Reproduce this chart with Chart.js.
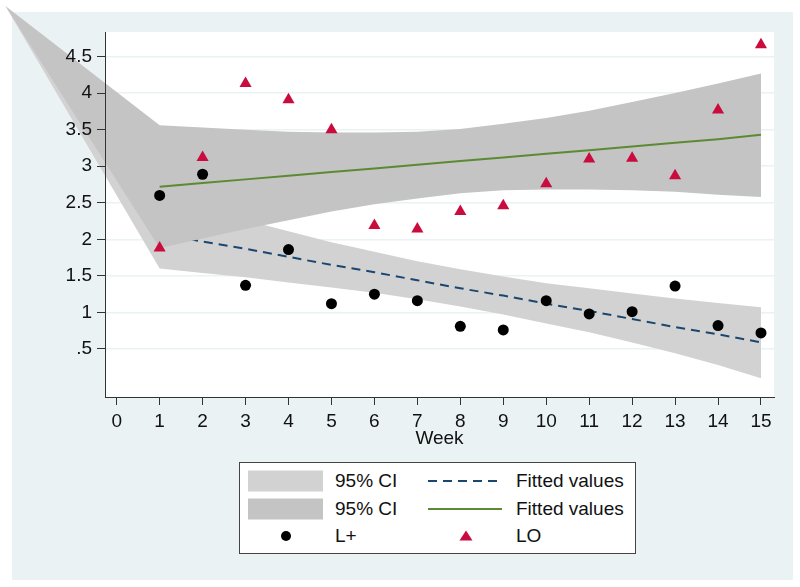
<!DOCTYPE html>
<html>
<head>
<meta charset="utf-8">
<script src="https://cdn.jsdelivr.net/npm/chart.js@4.4.0/dist/chart.umd.min.js"></script>
<style>
  body { margin: 0; background: #fff; font-family: "Liberation Sans", Arial, sans-serif; }
  #wrap { position: relative; width: 800px; height: 587px; overflow: hidden; }
  #bg { position: absolute; left: 12px; top: 12px; width: 781px; height: 568px; background: #eaf2f3; }
  #chart { position: absolute; left: 0; top: 0; }
  #legend { position: absolute; left: 239px; top: 462px; width: 397px; height: 92px;
            box-sizing: border-box; border: 1px solid #444; background: #fff; }
  #legend svg { position: absolute; }
  #legend span { position: absolute; font-size: 19px; line-height: 22px; color: #111; white-space: nowrap; }
</style>
</head>
<body>
<div id="wrap">
  <div id="bg"></div>
  <canvas id="chart" width="800" height="587"></canvas>
  <div id="legend"></div>
</div>
<script>
// -------------------- DATA --------------------
const weeks = [1, 2, 3, 4, 5, 6, 7, 8, 9, 10, 11, 12, 13, 14, 15];
const xTicks = [0, 1, 2, 3, 4, 5, 6, 7, 8, 9, 10, 11, 12, 13, 14, 15];
const yTicks = [0.5, 1, 1.5, 2, 2.5, 3, 3.5, 4, 4.5];
const yTickLabels = ['.5', '1', '1.5', '2', '2.5', '3', '3.5', '4', '4.5'];
const xTitle = 'Week';

// observed scores
const lPlus = [2.60, 2.89, 1.37, 1.86, 1.12, 1.25, 1.16, 0.81, 0.76, 1.16, 0.98, 1.01, 1.36, 0.82, 0.72];
const lo    = [1.88, 3.12, 4.13, 3.91, 3.50, 2.19, 2.14, 2.38, 2.46, 2.76, 3.10, 3.11, 2.87, 3.77, 4.66];

// linear fits
const fitLplus = [2.08, 1.97, 1.87, 1.76, 1.65, 1.55, 1.44, 1.33, 1.23, 1.12, 1.02, 0.91, 0.80, 0.70, 0.59];
const fitLo    = [2.72, 2.77, 2.82, 2.87, 2.92, 2.97, 3.02, 3.07, 3.12, 3.17, 3.22, 3.27, 3.32, 3.37, 3.43];

// 95% CI bands
const ciLplusUpper = [2.57, 2.41, 2.26, 2.11, 1.96, 1.83, 1.70, 1.59, 1.49, 1.40, 1.33, 1.26, 1.19, 1.13, 1.07];
const ciLplusLower = [1.60, 1.54, 1.48, 1.41, 1.34, 1.27, 1.18, 1.08, 0.97, 0.85, 0.73, 0.59, 0.44, 0.28, 0.10];
const ciLoUpper    = [3.56, 3.53, 3.50, 3.47, 3.46, 3.46, 3.47, 3.51, 3.58, 3.66, 3.76, 3.88, 4.00, 4.13, 4.27];
const ciLoLower    = [1.88, 2.01, 2.14, 2.26, 2.38, 2.48, 2.56, 2.63, 2.67, 2.68, 2.68, 2.67, 2.65, 2.61, 2.58];
// both band polygons start from this stray point up in the corner (week, value)
const ciApex = [-2.59, 5.19];

const legendLabels = ['95% CI', 'Fitted values', '95% CI', 'Fitted values', 'L+', 'LO'];

// -------------------- STYLE --------------------
const bandLight = '#d2d2d2';
const bandDark = '#c4c4c4';
const navy = '#1a476f';
const green = '#5b8a33';
const red = '#c90b3e';
const axisColor = '#333';
const font = { family: '"Liberation Sans", Arial, sans-serif', size: 19 };

const toXY = (ys) => ys.map((y, i) => ({ x: weeks[i], y }));
const setTicks = (vals) => (scale) => { scale.ticks = vals.map(v => ({ value: v })); };

// draws the CI polygons (not clipped, they run off past the axes like the original)
const ciBands = {
  id: 'ciBands',
  beforeDraw(chart) {
    const { ctx, chartArea: a } = chart;
    ctx.save();
    ctx.fillStyle = '#fff';
    ctx.fillRect(a.left, a.top, a.right - a.left, a.bottom - a.top);
    ctx.restore();
  },
  beforeDatasetDraw(chart, args) {
    const ds = chart.data.datasets[args.index];
    if (!ds.lowerBand) return;
    const { ctx } = chart;
    const x = chart.scales.x, y = chart.scales.y;
    ctx.save();
    ctx.beginPath();
    ctx.moveTo(x.getPixelForValue(ciApex[0]), y.getPixelForValue(ciApex[1]));
    ds.data.forEach(p => ctx.lineTo(x.getPixelForValue(p.x), y.getPixelForValue(p.y)));
    for (let i = weeks.length - 1; i >= 0; i--) {
      ctx.lineTo(x.getPixelForValue(weeks[i]), y.getPixelForValue(ds.lowerBand[i]));
    }
    ctx.closePath();
    ctx.fillStyle = ds.backgroundColor;
    ctx.fill();
    ctx.restore();
  }
};

const chart = new Chart(document.getElementById('chart'), {
  type: 'line',
  data: {
    datasets: [
      { label: legendLabels[0], data: toXY(ciLplusUpper), lowerBand: ciLplusLower, backgroundColor: bandLight,
        showLine: false, pointRadius: 0, order: 6 },
      { label: legendLabels[1], data: toXY(fitLplus), borderColor: navy, borderWidth: 2, borderDash: [9, 6],
        pointRadius: 0, fill: false, order: 5 },
      { label: legendLabels[2], data: toXY(ciLoUpper), lowerBand: ciLoLower, backgroundColor: bandDark,
        showLine: false, pointRadius: 0, order: 4 },
      { label: legendLabels[3], data: toXY(fitLo), borderColor: green, borderWidth: 2,
        pointRadius: 0, fill: false, order: 3 },
      { label: legendLabels[4], data: toXY(lPlus), showLine: false, pointStyle: 'circle', pointRadius: 5.5,
        backgroundColor: '#000', borderColor: '#000', borderWidth: 0, order: 2 },
      { label: legendLabels[5], data: toXY(lo), showLine: false, pointStyle: 'triangle', pointRadius: 7,
        backgroundColor: red, borderColor: red, borderWidth: 0, order: 1 }
    ]
  },
  options: {
    responsive: false,
    animation: false,
    layout: { padding: { left: 0, top: 32, right: 26, bottom: 130 } },
    plugins: { legend: { display: false }, tooltip: { enabled: false } },
    scales: {
      x: {
        type: 'linear', min: -0.272, max: 15.303,
        afterBuildTicks: setTicks(xTicks),
        afterFit: (s) => { s.height = 60; },
        ticks: { font, color: '#111', padding: 5, autoSkip: false, maxRotation: 0, callback: (v) => String(v) },
        grid: { drawOnChartArea: false, tickLength: 8, tickColor: axisColor },
        border: { color: axisColor, width: 1, z: 1 },
        title: { display: true, text: xTitle, font, color: '#111', padding: { top: 0, bottom: 7 } }
      },
      y: {
        type: 'linear', min: -0.157, max: 4.836,
        afterBuildTicks: setTicks(yTicks),
        afterFit: (s) => { s.width = 0; },
        ticks: { display: false },
        grid: { color: '#eaf2f3', lineWidth: 1.5, drawTicks: false },
        border: { display: false }
      },
      // separate axis for the ticks and labels so they sit on top of the bands
      yAxis: {
        type: 'linear', position: 'left', min: -0.157, max: 4.836,
        afterBuildTicks: setTicks(yTicks),
        afterFit: (s) => { s.width = 105; },
        ticks: { font, color: '#111', padding: 5, autoSkip: false, z: 1, callback: (v, i) => yTickLabels[i] },
        grid: { drawOnChartArea: false, tickLength: 8, tickColor: axisColor, z: 1 },
        border: { color: axisColor, width: 1, z: 1 }
      }
    }
  },
  plugins: [ciBands]
});

// -------------------- LEGEND (two columns, drawn as html) --------------------
const legendEl = document.getElementById('legend');
const svgNS = 'http://www.w3.org/2000/svg';
const keys = [
  { type: 'area', color: bandLight },
  { type: 'line', color: navy, dash: '9 6' },
  { type: 'area', color: bandDark },
  { type: 'line', color: green, dash: '' },
  { type: 'circle', color: '#000' },
  { type: 'triangle', color: red }
];
const colKeyX = [8, 188];
const colTextX = [95, 276];

function svgEl(tag, attrs) {
  const el = document.createElementNS(svgNS, tag);
  for (const k in attrs) el.setAttribute(k, attrs[k]);
  return el;
}

legendLabels.forEach((label, i) => {
  const col = i % 2, row = Math.floor(i / 2);
  const cy = 18 + row * 27.5;
  const key = keys[i];
  const svg = svgEl('svg', { width: 76, height: 24 });
  svg.style.left = colKeyX[col] + 'px';
  svg.style.top = (cy - 12) + 'px';
  if (key.type === 'area') {
    svg.appendChild(svgEl('rect', { x: 0, y: 1.5, width: 75, height: 21, fill: key.color }));
  } else if (key.type === 'line') {
    svg.appendChild(svgEl('line', { x1: 0, y1: 12, x2: 74, y2: 12, stroke: key.color, 'stroke-width': 2,
      'stroke-dasharray': key.dash }));
  } else if (key.type === 'circle') {
    svg.appendChild(svgEl('circle', { cx: 38, cy: 12, r: 5, fill: key.color }));
  } else {
    svg.appendChild(svgEl('polygon', { points: '38,6.5 44.5,16.5 31.5,16.5', fill: key.color }));
  }
  legendEl.appendChild(svg);

  const span = document.createElement('span');
  span.textContent = label;
  span.style.left = colTextX[col] + 'px';
  span.style.top = (cy - 11) + 'px';
  legendEl.appendChild(span);
});
</script>
</body>
</html>
